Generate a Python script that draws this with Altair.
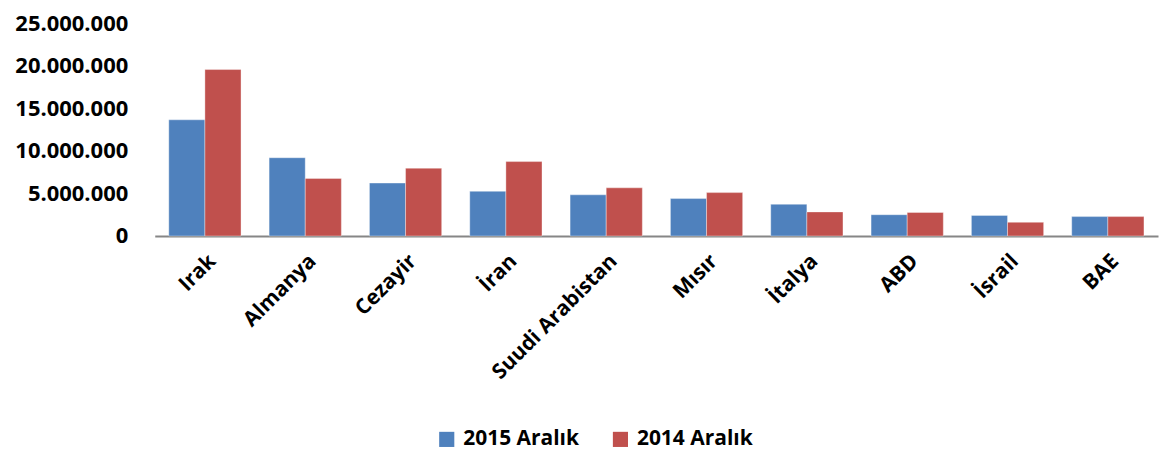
import altair as alt
import pandas as pd

countries = ["Irak", "Almanya", "Cezayir", "İran", "Suudi Arabistan", "Mısır", "İtalya", "ABD", "İsrail", "BAE"]
v2015 = [13660000, 9200000, 6220000, 5250000, 4840000, 4400000, 3730000, 2500000, 2420000, 2280000]
v2014 = [19570000, 6770000, 7970000, 8750000, 5660000, 5100000, 2830000, 2760000, 1610000, 2280000]
series = ["2015 Aralık", "2014 Aralık"]
colors = ["#4F81BD", "#C0504D"]
y_ticks = [0, 5000000, 10000000, 15000000, 20000000, 25000000]

rows = []
for c, a, b in zip(countries, v2015, v2014):
    rows.append({"country": c, "series": series[0], "value": a})
    rows.append({"country": c, "series": series[1], "value": b})
df = pd.DataFrame(rows)

FONT = "Open Sans"

chart = alt.Chart(df).mark_bar(stroke="white", strokeWidth=0.6, strokeOpacity=0.6).encode(
    x=alt.X("country:N", sort=countries, title=None,
            scale=alt.Scale(paddingInner=0.28, paddingOuter=0.14),
            axis=alt.Axis(labelAngle=-45, labelFont=FONT, labelFontWeight="bold",
                          labelFontSize=21, labelColor="black", ticks=False,
                          domainColor="#868686", domainWidth=2, labelPadding=14)),
    xOffset=alt.XOffset("series:N", sort=series),
    y=alt.Y("value:Q", title=None,
            scale=alt.Scale(domain=[0, 25000000]),
            axis=alt.Axis(values=y_ticks, format=",.0f", labelExpr="replace(datum.label, /,/g, '.')",
                          labelFont=FONT, labelFontWeight="bold", labelFontSize=22,
                          labelColor="black", grid=False, domain=False, ticks=False,
                          labelPadding=27)),
    color=alt.Color("series:N", sort=series,
                    scale=alt.Scale(domain=series, range=colors),
                    legend=alt.Legend(title=None, orient="none", direction="horizontal",
                                      legendX=282, legendY=406, symbolType="square",
                                      symbolSize=230, symbolStrokeWidth=0,
                                      labelFont=FONT, labelFontWeight="bold",
                                      labelFontSize=21, labelColor="black",
                                      columnPadding=30, labelOffset=6)),
).properties(
    width=1005, height=213,
    autosize=alt.AutoSizeParams(type="none"),
    padding={"left": 147, "top": 15, "right": 5, "bottom": 222},
).configure_view(stroke=None)

chart.save("out.html", embed_options={"renderer": "svg", "actions": False})
